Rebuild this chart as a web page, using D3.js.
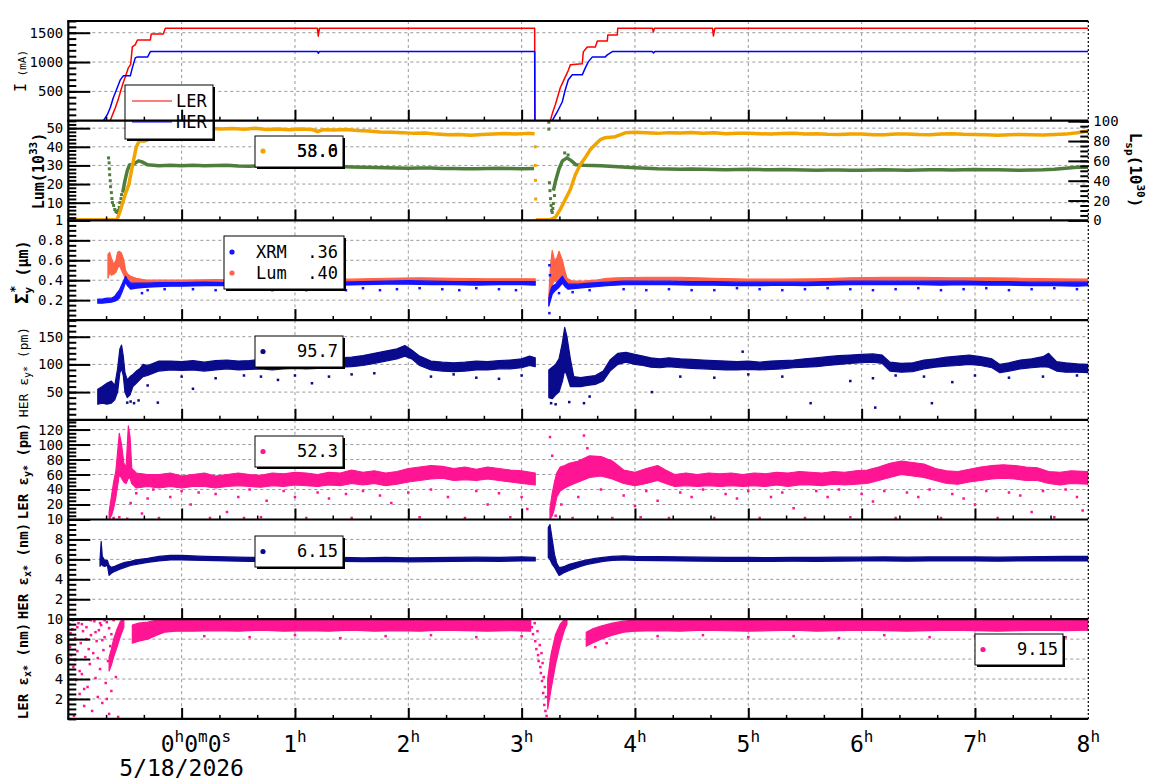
<!DOCTYPE html>
<html>
<head>
<meta charset="utf-8">
<script src="https://cdn.jsdelivr.net/npm/d3@7"></script>
<style>
  body { margin: 0; background: #fff; }
  svg text { font-family: "DejaVu Sans Mono", monospace; }
</style>
</head>
<body>
<div id="chart"></div>
<script>
// ----------------------------
// Data (time in hours from 0h, values per panel)
// ----------------------------

// Panel 1: beam currents (mA)
const lerCurrent = [[-1, 0], [-0.63, 0], [-0.61, 100], [-0.585, 221], [-0.56, 360], [-0.54, 493], [-0.52, 620], [-0.497, 748],
  [-0.47, 901], [-0.45, 960], [-0.435, 1258], [-0.41, 1292], [-0.39, 1377], [-0.276, 1377], [-0.268, 1479], [-0.162, 1479],
  [-0.144, 1575], [1.198, 1575], [1.206, 1440], [1.216, 1575], [3.115, 1575], [3.117, 0], [3.253, 0], [3.275, 150],
  [3.297, 272], [3.32, 420], [3.341, 561], [3.362, 650], [3.385, 748], [3.41, 850], [3.43, 952], [3.535, 969], [3.544, 1173],
  [3.579, 1258], [3.65, 1258], [3.668, 1360], [3.756, 1360], [3.76, 1462], [3.844, 1462], [3.848, 1575], [4.155, 1575],
  [4.162, 1513], [4.172, 1575], [4.685, 1575], [4.692, 1445], [4.705, 1575], [8, 1575]];
const herCurrent = [[-1, 0], [-0.69, 0], [-0.656, 102], [-0.63, 221], [-0.603, 391], [-0.568, 561], [-0.541, 697], [-0.515, 765],
  [-0.453, 765], [-0.435, 901], [-0.409, 1071], [-0.39, 1088], [-0.3, 1088], [-0.276, 1178], [1.2, 1178], [1.206, 1150],
  [1.215, 1178], [3.115, 1178], [3.117, 0], [3.27, 0], [3.315, 153], [3.359, 323], [3.385, 527], [3.412, 697], [3.447, 782],
  [3.535, 782], [3.562, 900], [3.588, 1003], [3.624, 1088], [3.738, 1088], [3.756, 1122], [3.8, 1178], [4.155, 1178],
  [4.163, 1155], [4.175, 1178], [8, 1178]];

// Panel 2: luminosity (left axis, 10^33) and specific luminosity (right axis, 10^30)
const lumLine = [[-1, 0.9], [-0.57, 0.9], [-0.545, 5], [-0.5, 14], [-0.465, 20], [-0.44, 28], [-0.42, 34], [-0.4, 40],
  [-0.37, 43.5], [-0.33, 43], [-0.29, 44], [-0.265, 46.5], [-0.22, 48.5], [-0.15, 49.6], [-0.05, 49.8], [0.05, 50.2],
  [0.15, 49.6], [0.25, 50], [0.35, 49.5], [0.45, 49.8], [0.55, 49.4], [0.65, 49.9], [0.75, 49.3], [0.85, 49.6], [0.95, 49.2],
  [1.05, 49.6], [1.15, 49.3], [1.2, 48.2], [1.25, 49.2], [1.35, 49], [1.45, 49.3], [1.55, 48.7], [1.65, 48.5], [1.75, 48],
  [1.85, 47.8], [1.95, 47.6], [2.05, 47.2], [2.15, 47.4], [2.25, 46.8], [2.35, 46.4], [2.45, 46.6], [2.55, 46.2], [2.65, 46.6],
  [2.75, 46.9], [2.85, 47.1], [2.95, 46.8], [3.05, 47.2], [3.115, 47], null,
  [3.125, 0.9], [3.253, 0.9], [3.297, 2.1], [3.341, 6.4], [3.385, 11.7], [3.43, 17.1], [3.474, 25], [3.518, 30.5],
  [3.562, 34.2], [3.606, 38.5], [3.65, 41.2], [3.694, 43.8], [3.738, 44.9], [3.826, 45.4], [3.915, 47.5], [4.0, 47.8],
  [4.1, 47.5], [4.2, 47.2], [4.3, 47.6], [4.4, 47.4], [4.5, 47.7], [4.6, 47.3], [4.7, 47.5], [4.8, 47], [4.9, 47.3], [5.0, 47.3],
  [5.1, 47], [5.2, 46.8], [5.3, 47.1], [5.4, 47.2], [5.5, 46.9], [5.6, 47], [5.7, 46.7], [5.8, 46.6], [5.9, 46.9], [6.0, 46.8],
  [6.1, 46.5], [6.2, 46.4], [6.3, 46.8], [6.4, 46.9], [6.5, 46.6], [6.6, 46.5], [6.7, 46.8], [6.8, 47], [6.9, 46.7], [7.0, 46.6],
  [7.1, 46.4], [7.2, 46.2], [7.3, 46.5], [7.4, 46.6], [7.5, 46.4], [7.6, 46.3], [7.7, 46.6], [7.8, 46.8], [7.9, 47.5], [8.0, 48.5]];
const lumStray = [[3.12, 40], [3.12, 30], [3.122, 22], [3.124, 12]];
const lspLine = [[-0.52, 28], [-0.5, 40], [-0.48, 50], [-0.46, 56], [-0.42, 57], [-0.38, 60], [-0.35, 59], [-0.3, 56],
  [-0.2, 55], [-0.1, 55.5], [0, 55.2], [0.1, 55.6], [0.2, 55], [0.3, 55.4], [0.4, 55.6], [0.5, 54.8], [0.6, 54.5], [0.7, 55],
  [0.8, 54.8], [0.9, 54.4], [1.0, 54.2], [1.1, 54.6], [1.2, 54], [1.3, 54.3], [1.4, 54.3], [1.5, 53.8], [1.6, 53.5], [1.7, 53.2],
  [1.8, 53], [1.9, 52.7], [2.0, 52.5], [2.1, 52.8], [2.2, 52.8], [2.3, 52.4], [2.4, 52.2], [2.5, 52], [2.6, 52], [2.7, 52.3],
  [2.8, 52.5], [2.9, 52.2], [3.0, 52], [3.11, 52.3], null,
  [3.28, 30], [3.3, 40], [3.33, 52], [3.36, 60], [3.4, 63], [3.44, 60], [3.48, 56], [3.55, 55.5], [3.7, 55], [3.85, 54],
  [4.0, 53], [4.1, 52.5], [4.2, 52], [4.3, 51.8], [4.4, 51.5], [4.5, 51.7], [4.6, 51.5], [4.7, 51.2], [4.8, 51], [4.9, 51.3],
  [5.0, 51.5], [5.1, 51.2], [5.2, 51], [5.3, 51.2], [5.4, 51], [5.5, 50.7], [5.6, 50.5], [5.7, 50.8], [5.8, 50.8], [5.9, 50.6],
  [6.0, 50.5], [6.1, 50.8], [6.2, 51], [6.3, 50.7], [6.4, 50.5], [6.5, 50.8], [6.6, 51], [6.7, 51], [6.8, 50.8], [6.9, 51],
  [7.0, 51.2], [7.1, 51.1], [7.2, 51], [7.3, 50.8], [7.4, 50.6], [7.5, 50.8], [7.6, 51], [7.7, 51.6], [7.8, 52.5], [7.9, 53.5],
  [8.0, 53.5]];
const lspStray = [[-0.645, 63], [-0.64, 58], [-0.638, 52], [-0.635, 46], [-0.63, 40], [-0.627, 34], [-0.62, 28], [-0.615, 22],
  [-0.61, 18], [-0.6, 15], [-0.59, 11], [-0.58, 9], [-0.57, 8], [-0.56, 10], [-0.55, 13], [-0.545, 18], [-0.535, 22], [-0.53, 26],
  [3.24, 99], [3.24, 92], [3.245, 38], [3.25, 30], [3.255, 22], [3.26, 15], [3.265, 10], [3.27, 8], [3.275, 12], [3.28, 17],
  [3.29, 25], [3.38, 68], [3.41, 66]];

// Panel 3: vertical beam size (um), [t, low, high] bands
const xrmBand = [[-0.74, 0.17, 0.21], [-0.7, 0.17, 0.21], [-0.66, 0.175, 0.22], [-0.62, 0.18, 0.22], [-0.59, 0.19, 0.24],
  [-0.57, 0.2, 0.27], [-0.55, 0.22, 0.3], [-0.53, 0.27, 0.35], [-0.51, 0.33, 0.4], [-0.495, 0.38, 0.44], [-0.475, 0.34, 0.4],
  [-0.45, 0.31, 0.37], [-0.4, 0.32, 0.37], [-0.3, 0.33, 0.37], [-0.2, 0.335, 0.375], [-0.1, 0.34, 0.375], [0, 0.34, 0.375],
  [0.2, 0.345, 0.38], [0.4, 0.345, 0.375], [0.6, 0.35, 0.38], [0.8, 0.345, 0.38], [1.0, 0.35, 0.38], [1.2, 0.345, 0.378],
  [1.4, 0.35, 0.38], [1.6, 0.355, 0.385], [1.8, 0.36, 0.39], [2.0, 0.36, 0.395], [2.2, 0.355, 0.39], [2.4, 0.355, 0.385],
  [2.6, 0.35, 0.385], [2.8, 0.355, 0.385], [3.0, 0.355, 0.385], [3.12, 0.35, 0.385], null,
  [3.24, 0.14, 0.22], [3.255, 0.2, 0.3], [3.27, 0.26, 0.34], [3.3, 0.3, 0.36], [3.33, 0.33, 0.4], [3.36, 0.37, 0.44],
  [3.38, 0.34, 0.4], [3.41, 0.31, 0.36], [3.5, 0.32, 0.36], [3.6, 0.33, 0.37], [3.75, 0.345, 0.38], [3.9, 0.355, 0.39],
  [4.1, 0.355, 0.39], [4.3, 0.355, 0.39], [4.5, 0.35, 0.385], [4.7, 0.35, 0.385], [4.9, 0.345, 0.38], [5.1, 0.345, 0.38],
  [5.3, 0.35, 0.38], [5.5, 0.345, 0.38], [5.7, 0.35, 0.385], [5.9, 0.355, 0.39], [6.1, 0.355, 0.39], [6.3, 0.355, 0.39],
  [6.5, 0.355, 0.39], [6.7, 0.35, 0.39], [6.9, 0.355, 0.39], [7.1, 0.35, 0.385], [7.3, 0.35, 0.385], [7.5, 0.345, 0.38],
  [7.7, 0.345, 0.38], [7.9, 0.34, 0.38], [8.0, 0.345, 0.38]];
const xrmStray = [[-0.35, 0.27], [-0.3, 0.3], [-0.15, 0.31], [0.1, 0.31], [0.3, 0.3], [0.45, 0.32], [0.62, 0.31], [0.8, 0.3],
  [0.95, 0.31], [1.1, 0.3], [1.3, 0.31], [1.45, 0.3], [1.6, 0.32], [1.75, 0.3], [1.9, 0.31], [2.1, 0.32], [2.3, 0.31],
  [2.45, 0.3], [2.6, 0.32], [2.8, 0.31], [2.95, 0.3], [3.245, 0.07], [3.245, 0.55], [3.25, 0.45], [3.33, 0.27], [3.45, 0.28],
  [3.6, 0.3], [3.9, 0.31], [4.1, 0.3], [4.3, 0.31], [4.5, 0.3], [4.7, 0.3], [4.9, 0.32], [5.1, 0.31], [5.3, 0.3], [5.5, 0.31],
  [5.7, 0.32], [5.9, 0.31], [6.1, 0.3], [6.3, 0.31], [6.5, 0.32], [6.7, 0.3], [6.9, 0.31], [7.1, 0.32], [7.3, 0.3], [7.5, 0.31],
  [7.7, 0.32], [7.9, 0.31]];
const sigLumBand = [[-0.65, 0.42, 0.66], [-0.635, 0.48, 0.68], [-0.62, 0.45, 0.62], [-0.6, 0.46, 0.56], [-0.58, 0.48, 0.6],
  [-0.565, 0.52, 0.68], [-0.55, 0.55, 0.69], [-0.53, 0.5, 0.67], [-0.51, 0.45, 0.6], [-0.495, 0.42, 0.5], [-0.475, 0.4, 0.46],
  [-0.45, 0.38, 0.44], [-0.4, 0.37, 0.42], [-0.3, 0.37, 0.4], [-0.2, 0.375, 0.4], [0, 0.38, 0.4], [0.3, 0.38, 0.405],
  [0.6, 0.38, 0.4], [0.9, 0.38, 0.405], [1.2, 0.385, 0.41], [1.5, 0.385, 0.41], [1.8, 0.39, 0.42], [2.1, 0.395, 0.425],
  [2.4, 0.39, 0.42], [2.7, 0.39, 0.415], [3.0, 0.39, 0.415], [3.12, 0.39, 0.415], null,
  [3.24, 0.15, 0.25], [3.255, 0.25, 0.55], [3.27, 0.35, 0.7], [3.29, 0.4, 0.6], [3.31, 0.38, 0.62], [3.33, 0.42, 0.69],
  [3.36, 0.42, 0.6], [3.38, 0.38, 0.5], [3.4, 0.36, 0.42], [3.45, 0.35, 0.39], [3.55, 0.36, 0.39], [3.65, 0.37, 0.4],
  [3.75, 0.39, 0.42], [3.85, 0.395, 0.425], [4.1, 0.4, 0.43], [4.4, 0.4, 0.43], [4.7, 0.39, 0.42], [5.0, 0.385, 0.41],
  [5.3, 0.385, 0.41], [5.6, 0.39, 0.415], [5.9, 0.395, 0.425], [6.2, 0.4, 0.43], [6.5, 0.4, 0.43], [6.8, 0.395, 0.425],
  [7.1, 0.395, 0.425], [7.4, 0.39, 0.42], [7.7, 0.385, 0.415], [8.0, 0.385, 0.41]];

// Panel 4: HER vertical emittance (pm)
const herEyBand = [[-0.74, 28, 55], [-0.7, 30, 60], [-0.66, 28, 66], [-0.62, 30, 70], [-0.59, 36, 62], [-0.565, 50, 92],
  [-0.545, 85, 128], [-0.53, 92, 135], [-0.515, 80, 115], [-0.5, 50, 85], [-0.48, 40, 72], [-0.455, 45, 78], [-0.43, 60, 82],
  [-0.4, 66, 88], [-0.37, 72, 92], [-0.34, 78, 100], [-0.3, 80, 98], [-0.25, 84, 102], [-0.2, 88, 106], [-0.1, 90, 106],
  [0, 89, 105], [0.1, 90, 107], [0.2, 88, 104], [0.3, 90, 107], [0.4, 92, 108], [0.5, 90, 106], [0.6, 91, 107], [0.7, 92, 109],
  [0.8, 90, 106], [0.9, 92, 108], [1.0, 93, 108], [1.1, 92, 109], [1.2, 93, 108], [1.3, 94, 110], [1.4, 95, 112],
  [1.5, 96, 113], [1.6, 98, 116], [1.7, 102, 120], [1.8, 106, 124], [1.9, 110, 128], [1.97, 115, 134], [2.03, 110, 126],
  [2.1, 98, 115], [2.2, 90, 106], [2.3, 88, 104], [2.4, 87, 103], [2.5, 88, 104], [2.6, 90, 106], [2.7, 90, 105],
  [2.8, 92, 107], [2.9, 92, 108], [3.0, 94, 110], [3.07, 98, 115], [3.12, 96, 112], null,
  [3.24, 40, 90], [3.27, 38, 95], [3.3, 45, 100], [3.33, 50, 110], [3.36, 70, 140], [3.38, 90, 167], [3.4, 80, 150],
  [3.43, 60, 110], [3.46, 60, 78], [3.52, 60, 76], [3.58, 62, 78], [3.65, 64, 80], [3.72, 70, 88], [3.78, 88, 108],
  [3.85, 100, 120], [3.92, 104, 122], [4.0, 100, 118], [4.07, 98, 115], [4.14, 95, 112], [4.22, 94, 110], [4.3, 96, 112],
  [4.4, 94, 110], [4.5, 93, 109], [4.6, 92, 108], [4.7, 91, 107], [4.8, 90, 106], [4.9, 90, 105], [5.0, 91, 106],
  [5.1, 90, 104], [5.2, 91, 106], [5.3, 92, 107], [5.4, 94, 108], [5.5, 95, 110], [5.6, 96, 112], [5.7, 98, 114],
  [5.8, 100, 116], [5.9, 102, 117], [6.0, 103, 118], [6.1, 104, 119], [6.18, 102, 117], [6.25, 88, 104], [6.35, 86, 102],
  [6.45, 87, 103], [6.55, 92, 108], [6.65, 95, 110], [6.75, 97, 113], [6.85, 98, 115], [6.95, 100, 117], [7.05, 98, 114],
  [7.15, 94, 110], [7.22, 85, 100], [7.3, 88, 103], [7.4, 92, 108], [7.5, 94, 110], [7.6, 96, 114], [7.65, 95, 120],
  [7.72, 88, 105], [7.8, 86, 103], [7.9, 86, 101], [8.0, 85, 100]];
const herEyStray = [[-0.48, 31], [-0.45, 33], [-0.42, 30], [-0.38, 35], [-0.21, 31], [-0.3, 62], [0.1, 56], [0.0, 78],
  [0.3, 75], [0.55, 80], [0.7, 78], [0.85, 72], [1.0, 80], [1.15, 66], [1.3, 78], [1.5, 82], [1.7, 84], [2.2, 78], [2.4, 82],
  [2.6, 76], [2.8, 74], [3.0, 80], [3.26, 30], [3.3, 28], [3.42, 32], [3.55, 30], [3.6, 42], [4.15, 50], [4.4, 78], [4.7, 76],
  [4.95, 123], [5.0, 82], [5.3, 78], [5.55, 30], [5.9, 70], [6.1, 75], [6.12, 22], [6.3, 80], [6.55, 78], [6.62, 30],
  [6.8, 68], [7.0, 80], [7.3, 76], [7.6, 78], [7.9, 80]];

// Panel 5: LER vertical emittance (pm)
const lerEyBand = [[-0.64, 0, 10], [-0.62, 5, 30], [-0.6, 15, 50], [-0.58, 30, 65], [-0.565, 45, 90], [-0.55, 60, 115],
  [-0.53, 55, 100], [-0.51, 50, 75], [-0.49, 48, 70], [-0.47, 55, 125], [-0.455, 55, 110], [-0.44, 48, 68], [-0.4, 42, 62],
  [-0.3, 44, 60], [-0.2, 42, 60], [-0.1, 44, 62], [0, 42, 58], [0.1, 44, 60], [0.2, 44, 62], [0.3, 42, 58], [0.4, 44, 60],
  [0.5, 45, 62], [0.6, 44, 60], [0.7, 43, 59], [0.8, 45, 62], [0.9, 44, 61], [1.0, 46, 63], [1.1, 45, 62], [1.2, 44, 60],
  [1.3, 46, 63], [1.4, 45, 62], [1.5, 48, 66], [1.6, 46, 63], [1.7, 48, 65], [1.8, 45, 62], [1.9, 47, 64], [2.0, 50, 68],
  [2.1, 52, 70], [2.2, 54, 72], [2.3, 55, 71], [2.4, 52, 68], [2.5, 53, 70], [2.6, 52, 67], [2.7, 54, 70], [2.8, 52, 68],
  [2.9, 50, 66], [3.0, 48, 65], [3.12, 46, 62], null,
  [3.25, 0, 15], [3.27, 5, 35], [3.29, 15, 50], [3.31, 30, 62], [3.34, 38, 70], [3.38, 42, 72], [3.42, 45, 75], [3.5, 50, 78],
  [3.6, 56, 85], [3.7, 58, 84], [3.8, 54, 78], [3.9, 48, 66], [4.0, 45, 63], [4.1, 48, 68], [4.2, 52, 72], [4.27, 48, 66],
  [4.35, 44, 60], [4.45, 45, 62], [4.55, 44, 60], [4.65, 45, 62], [4.75, 44, 61], [4.85, 45, 62], [4.95, 44, 60],
  [5.05, 45, 62], [5.15, 44, 61], [5.25, 46, 63], [5.35, 44, 62], [5.45, 46, 64], [5.55, 46, 63], [5.65, 45, 62],
  [5.75, 47, 64], [5.85, 46, 63], [5.95, 47, 65], [6.05, 48, 66], [6.15, 52, 70], [6.25, 56, 75], [6.35, 60, 78],
  [6.45, 58, 76], [6.55, 56, 74], [6.65, 52, 68], [6.75, 48, 65], [6.85, 47, 64], [6.95, 50, 67], [7.05, 52, 70],
  [7.15, 54, 72], [7.25, 55, 73], [7.35, 54, 72], [7.45, 52, 70], [7.55, 52, 69], [7.65, 48, 64], [7.75, 46, 63],
  [7.85, 48, 65], [8.0, 47, 64]];
const lerEyStray = [[-0.6, 2], [-0.55, 3], [-0.48, 1], [-0.45, 22], [-0.4, 35], [-0.35, 8], [-0.3, 28], [-0.25, 40], [-0.2, 2],
  [-0.1, 30], [0, 38], [0.08, 20], [0.15, 36], [0.25, 2], [0.3, 34], [0.4, 10], [0.5, 30], [0.55, 2], [0.6, 40], [0.7, 3],
  [0.75, 25], [0.9, 38], [1.0, 30], [1.1, 2], [1.2, 36], [1.3, 28], [1.35, 75], [1.45, 34], [1.5, 2], [1.6, 38], [1.75, 32],
  [1.85, 22], [2.0, 36], [2.1, 3], [2.2, 40], [2.35, 30], [2.5, 2], [2.6, 38], [2.7, 20], [2.8, 35], [2.9, 3], [3.0, 30],
  [3.05, 14], [3.25, 110], [3.27, 85], [3.3, 5], [3.35, 20], [3.45, 2], [3.5, 30], [3.55, 112], [3.58, 95], [3.7, 40],
  [3.8, 2], [3.9, 32], [4.0, 18], [4.05, 3], [4.1, 38], [4.2, 25], [4.3, 2], [4.4, 36], [4.5, 30], [4.6, 40], [4.7, 2],
  [4.8, 34], [4.9, 28], [5.0, 38], [5.1, 2], [5.2, 30], [5.3, 36], [5.4, 15], [5.5, 2], [5.6, 38], [5.7, 30], [5.8, 40],
  [5.9, 3], [6.0, 34], [6.1, 24], [6.2, 38], [6.3, 2], [6.4, 36], [6.5, 30], [6.6, 40], [6.7, 2], [6.8, 34], [6.9, 28],
  [7.0, 20], [7.1, 38], [7.2, 2], [7.3, 36], [7.4, 32], [7.5, 10], [7.6, 38], [7.7, 3], [7.8, 40], [7.9, 30], [7.95, 12]];

// Panel 6: HER horizontal emittance (nm)
const herExBand = [[-0.72, 5.3, 6.0], [-0.71, 5.6, 7.8], [-0.7, 5.4, 6.3], [-0.68, 5.3, 5.9], [-0.655, 5.4, 5.9],
  [-0.64, 4.4, 5.4], [-0.62, 4.6, 5.2], [-0.59, 4.8, 5.3], [-0.55, 5.0, 5.5], [-0.5, 5.2, 5.7], [-0.45, 5.4, 5.8],
  [-0.4, 5.5, 5.95], [-0.3, 5.7, 6.1], [-0.2, 5.85, 6.3], [-0.1, 5.95, 6.4], [0, 5.95, 6.4], [0.2, 5.9, 6.3],
  [0.4, 5.85, 6.25], [0.6, 5.8, 6.2], [0.8, 5.82, 6.22], [1.0, 5.8, 6.2], [1.2, 5.78, 6.18], [1.4, 5.8, 6.2],
  [1.6, 5.78, 6.15], [1.8, 5.8, 6.2], [2.0, 5.75, 6.15], [2.2, 5.78, 6.18], [2.4, 5.8, 6.2], [2.6, 5.82, 6.22],
  [2.8, 5.8, 6.2], [3.0, 5.85, 6.25], [3.12, 5.85, 6.2], null,
  [3.235, 6.2, 9.2], [3.25, 6.0, 9.5], [3.27, 5.5, 8.0], [3.29, 5.2, 6.5], [3.31, 4.8, 5.6], [3.33, 4.4, 5.2],
  [3.35, 4.5, 5.2], [3.38, 4.7, 5.3], [3.42, 4.9, 5.5], [3.47, 5.1, 5.65], [3.52, 5.3, 5.8], [3.58, 5.5, 5.95],
  [3.65, 5.65, 6.1], [3.72, 5.8, 6.2], [3.8, 5.9, 6.3], [3.9, 5.95, 6.35], [4.0, 5.9, 6.3], [4.2, 5.88, 6.28],
  [4.4, 5.85, 6.25], [4.6, 5.82, 6.22], [4.8, 5.8, 6.2], [5.0, 5.8, 6.2], [5.2, 5.8, 6.18], [5.4, 5.82, 6.2],
  [5.6, 5.8, 6.2], [5.8, 5.82, 6.22], [6.0, 5.85, 6.22], [6.2, 5.85, 6.25], [6.4, 5.82, 6.22], [6.6, 5.85, 6.25],
  [6.8, 5.85, 6.25], [7.0, 5.85, 6.25], [7.2, 5.82, 6.22], [7.4, 5.85, 6.25], [7.6, 5.85, 6.28], [7.8, 5.88, 6.3],
  [8.0, 5.85, 6.3]];

// Panel 7: LER horizontal emittance (nm)
const lerExBand = [[-0.64, 4.8, 6.2], [-0.62, 5.4, 7.0], [-0.6, 6.2, 8.0], [-0.57, 7.2, 9.0], [-0.54, 8.3, 9.8],
  [-0.51, 9.2, 10], null,
  [-0.435, 7.6, 9.4], [-0.38, 7.8, 9.6], [-0.3, 8.0, 9.7], [-0.22, 8.4, 9.9], [-0.15, 8.7, 9.95], [-0.05, 8.8, 9.95],
  [0.1, 8.8, 9.9], [0.3, 8.85, 9.95], [0.5, 8.8, 9.9], [0.7, 8.9, 9.95], [0.9, 8.8, 9.9], [1.1, 8.85, 9.95], [1.3, 8.8, 9.9],
  [1.5, 8.9, 9.95], [1.7, 8.8, 9.9], [1.9, 8.85, 9.95], [2.1, 8.8, 9.9], [2.3, 8.9, 9.95], [2.5, 8.85, 9.9], [2.7, 8.8, 9.95],
  [2.9, 8.85, 9.9], [3.08, 8.8, 9.95], null,
  [3.23, 1.0, 4.0], [3.26, 3.0, 6.5], [3.3, 5.5, 8.5], [3.34, 7.5, 9.5], [3.38, 9.0, 10], [3.4, 9.5, 10], null,
  [3.57, 7.3, 8.7], [3.62, 7.6, 9.0], [3.7, 8.0, 9.3], [3.8, 8.4, 9.6], [3.9, 8.7, 9.8], [4.0, 8.8, 9.9], [4.2, 8.85, 9.95],
  [4.4, 8.8, 9.9], [4.6, 8.9, 9.95], [4.8, 8.85, 9.9], [5.0, 8.8, 9.95], [5.2, 8.85, 9.9], [5.4, 8.9, 9.95], [5.6, 8.8, 9.9],
  [5.8, 8.85, 9.95], [6.0, 8.9, 9.95], [6.2, 8.85, 9.9], [6.4, 8.8, 9.95], [6.6, 8.85, 9.9], [6.8, 8.9, 9.95], [7.0, 8.85, 9.9],
  [7.2, 8.8, 9.95], [7.4, 8.85, 9.9], [7.6, 8.9, 9.95], [7.8, 8.85, 9.9], [8.0, 8.9, 9.95]];
const lerExStray = [[-0.99, 9.5], [-0.985, 7.2], [-0.975, 6.4], [-0.965, 9.0], [-0.955, 5.2], [-0.95, 0.3], [-0.94, 8.1],
  [-0.93, 3.9], [-0.92, 6.8], [-0.91, 9.6], [-0.9, 2.5], [-0.89, 7.6], [-0.88, 4.5], [-0.87, 8.8], [-0.86, 1.3], [-0.85, 6.2],
  [-0.84, 9.2], [-0.83, 3.2], [-0.82, 7.0], [-0.81, 5.5], [-0.8, 8.4], [-0.79, 0.8], [-0.78, 6.6], [-0.77, 9.8], [-0.76, 4.1],
  [-0.75, 7.8], [-0.74, 2.2], [-0.73, 8.9], [-0.72, 5.0], [-0.71, 9.4], [-0.7, 1.6], [-0.69, 6.9], [-0.68, 8.2], [-0.67, 3.6],
  [-0.66, 9.7], [-0.65, 5.8], [-0.64, 0.5], [-0.63, 7.3], [-0.62, 2.8], [-0.6, 9.9], [-0.58, 4.2], [-0.56, 0.2], [-0.98, 8.6],
  [-0.96, 9.9], [-0.92, 9.2], [-0.88, 9.5], [-0.84, 8.0], [-0.8, 9.9], [-0.76, 8.7], [-0.72, 9.6], [-0.68, 9.9], [-0.64, 9.1],
  [-0.62, 8.5], [-0.7, 7.9], [-0.74, 6.1], [-0.66, 2.0], [-0.86, 3.0], [-0.9, 4.8], [-0.94, 5.9],
  [3.09, 9.2], [3.1, 8.5], [3.115, 9.6], [3.12, 7.8], [3.13, 7.0], [3.14, 8.8], [3.145, 6.4], [3.15, 5.8], [3.16, 7.4],
  [3.165, 5.2], [3.17, 4.6], [3.175, 6.6], [3.18, 3.8], [3.185, 5.6], [3.19, 2.6], [3.195, 4.2], [3.2, 1.4], [3.205, 3.2],
  [3.21, 0.8], [3.215, 2.2], [3.22, 0.3],
  [0.2, 8.3], [0.6, 8.2], [1.0, 8.4], [1.4, 8.1], [1.8, 8.3], [2.2, 8.4], [2.6, 8.2], [3.0, 8.3], [3.65, 7.2], [3.75, 7.6],
  [4.2, 8.3], [4.6, 8.4], [5.0, 8.2], [5.4, 8.3], [5.8, 8.1], [6.2, 8.4], [6.6, 8.2], [7.0, 8.3], [7.4, 8.4], [7.8, 8.2]];

// Tick values and labels
const hourTicks = [0, 1, 2, 3, 4, 5, 6, 7, 8];
const hourLabels = ["1", "2", "3", "4", "5", "6", "7", "8"];
const dateLabel = "5/18/2026";
const currentTicks = [500, 1000, 1500];
const lumTicks = [10, 20, 30, 40, 50];
const lspTicks = [0, 20, 40, 60, 80, 100];
const sigmaTicks = [0.2, 0.4, 0.6, 0.8, 1];
const herEyTicks = [50, 100, 150];
const lerEyTicks = [20, 40, 60, 80, 100, 120];
const emitXTicks = [2, 4, 6, 8, 10];

// Legend readouts
const lumReadouts = ["58.6", "53.0"];
const sigmaNames = ["XRM", "Lum"];
const sigmaReadouts = [".36", ".40"];
const herEyReadout = "95.7";
const lerEyReadout = "52.3";
const herExReadout = "6.15";
const lerExReadout = "9.15";

// ----------------------------
// Layout
// ----------------------------
const width = 1160;
const height = 782;
const plotLeft = 68.3;
const plotRight = 1088.3;
const plotTop = 21;
const panelH = 99.7;

const colors = {
  ler: "#ff0000", her: "#0000ff", lum: "#f2a400", lsp: "#4e7d3c",
  xrm: "#1414ff", sigLum: "#ff6347", navy: "#0a0a8c", pink: "#ff1493"
};

const x = d3.scaleLinear().domain([-1, 8]).range([plotLeft, plotRight]);

const panels = [
  { domain: [0, 1700], major: currentTicks, minorStep: 100, fmt: d => d },
  { domain: [0.5, 54], major: lumTicks, minorStep: 2, fmt: d => d },
  { domain: [0, 1], major: sigmaTicks, minorStep: 0.05, fmt: d => d === 1 ? "1" : d.toFixed(1) },
  { domain: [0, 180], major: herEyTicks, minorStep: 10, fmt: d => d },
  { domain: [0, 133], major: lerEyTicks, minorStep: 5, fmt: d => d },
  { domain: [0, 10], major: emitXTicks, minorStep: 0.5, fmt: d => d },
  { domain: [0, 10], major: emitXTicks, minorStep: 0.5, fmt: d => d }
];
panels.forEach((p, i) => {
  p.top = plotTop + i * panelH;
  p.bottom = p.top + panelH;
  p.y = d3.scaleLinear().domain(p.domain).range([p.bottom, p.top]);
});
const ySp = d3.scaleLinear().domain([0, 100.5]).range([panels[1].bottom, panels[1].top]);

const svg = d3.create("svg")
  .attr("width", width)
  .attr("height", height)
  .attr("viewBox", [0, 0, width, height]);

svg.append("rect").attr("width", width).attr("height", height).attr("fill", "#fff");

const defs = svg.append("defs");
panels.forEach((p, i) => {
  defs.append("clipPath").attr("id", "clip" + i)
    .append("rect")
    .attr("x", plotLeft).attr("y", p.top)
    .attr("width", plotRight - plotLeft).attr("height", panelH);
});

function minorValues(p) {
  const out = [];
  const n = Math.floor((p.domain[1] + 1e-9) / p.minorStep);
  for (let i = 0; i <= n; i++) {
    const v = +(i * p.minorStep).toFixed(4);
    if (v >= p.domain[0]) out.push(v);
  }
  return out;
}

// ----------------------------
// Grid lines
// ----------------------------
const grid = svg.append("g")
  .attr("stroke", "#999")
  .attr("stroke-width", 1)
  .attr("stroke-dasharray", "3,3");

panels.forEach(p => {
  hourTicks.filter(h => h < 8).forEach(h => {
    grid.append("line")
      .attr("x1", x(h)).attr("x2", x(h))
      .attr("y1", p.top).attr("y2", p.bottom);
  });
  p.major.forEach(v => {
    const yy = p.y(v);
    if (yy > p.top + 1 && yy < p.bottom - 1) {
      grid.append("line")
        .attr("x1", plotLeft).attr("x2", plotRight)
        .attr("y1", yy).attr("y2", yy);
    }
  });
});

// ----------------------------
// Data marks
// ----------------------------
function drawBand(i, rows, color) {
  const y = panels[i].y;
  const area = d3.area()
    .defined(d => d !== null)
    .x(d => x(d[0]))
    .y0(d => y(d[1]))
    .y1(d => y(d[2]));
  svg.append("path")
    .attr("clip-path", `url(#clip${i})`)
    .attr("d", area(rows))
    .attr("fill", color)
    .attr("stroke", color)
    .attr("stroke-width", 1.2)
    .attr("stroke-linejoin", "round");
}

function drawLine(i, rows, color, w, yScale) {
  const y = yScale || panels[i].y;
  const line = d3.line()
    .defined(d => d !== null)
    .x(d => x(d[0]))
    .y(d => y(d[1]));
  svg.append("path")
    .attr("clip-path", `url(#clip${i})`)
    .attr("d", line(rows))
    .attr("fill", "none")
    .attr("stroke", color)
    .attr("stroke-width", w)
    .attr("stroke-linejoin", "round");
}

function drawDots(i, rows, color, size, yScale) {
  const y = yScale || panels[i].y;
  svg.append("g")
    .attr("clip-path", `url(#clip${i})`)
    .selectAll("rect")
    .data(rows)
    .join("rect")
      .attr("x", d => x(d[0]) - size / 2)
      .attr("y", d => y(d[1]) - size / 2)
      .attr("width", size)
      .attr("height", size)
      .attr("fill", color);
}

// Panel 1
drawLine(0, lerCurrent, colors.ler, 1.5);
drawLine(0, herCurrent, colors.her, 1.5);

// Panel 2
drawLine(1, lspLine, colors.lsp, 3.5, ySp);
drawDots(1, lspStray, colors.lsp, 3, ySp);
drawLine(1, lumLine, colors.lum, 3.5);
drawDots(1, lumStray, colors.lum, 3);

// Panel 3
drawBand(2, sigLumBand, colors.sigLum);
drawBand(2, xrmBand, colors.xrm);
drawDots(2, xrmStray, colors.xrm, 2.5);

// Panel 4
drawBand(3, herEyBand, colors.navy);
drawDots(3, herEyStray, colors.navy, 2.5);

// Panel 5
drawBand(4, lerEyBand, colors.pink);
drawDots(4, lerEyStray, colors.pink, 2.5);

// Panel 6
drawBand(5, herExBand, colors.navy);

// Panel 7
drawBand(6, lerExBand, colors.pink);
drawDots(6, lerExStray, colors.pink, 2.5);

// ----------------------------
// Legends
// ----------------------------
function legendBox(x0, y0, w, h) {
  const g = svg.append("g");
  g.append("rect").attr("x", x0 + 2).attr("y", y0 + 2).attr("width", w).attr("height", h).attr("fill", "#000");
  g.append("rect").attr("x", x0).attr("y", y0).attr("width", w).attr("height", h)
    .attr("fill", "#fff").attr("stroke", "#000").attr("stroke-width", 1);
  return g;
}

function legendText(g, xx, yy, txt, anchor) {
  g.append("text")
    .attr("x", xx).attr("y", yy)
    .attr("dy", "0.35em")
    .attr("text-anchor", anchor || "end")
    .attr("font-size", 17)
    .attr("fill", "#000")
    .text(txt);
}

function legendDot(g, xx, yy, color) {
  g.append("circle").attr("cx", xx).attr("cy", yy).attr("r", 2.6).attr("fill", color);
}

// current legend
{
  const g = legendBox(125, 85, 88, 54);
  [["LER", colors.ler, 101], ["HER", colors.her, 122]].forEach(([name, c, yy]) => {
    g.append("line").attr("x1", 132).attr("x2", 172).attr("y1", yy).attr("y2", yy)
      .attr("stroke", c).attr("stroke-width", 1.2);
    legendText(g, 176, yy, name, "start");
  });
}
// luminosity legend (two readouts written on top of each other)
{
  const g = legendBox(255, 136, 88, 31);
  legendDot(g, 263, 151, colors.lum);
  lumReadouts.forEach(v => legendText(g, 338, 151, v));
}
// beam size legend
{
  const g = legendBox(224, 236, 120, 53);
  [[colors.xrm, 252], [colors.sigLum, 273]].forEach(([c, yy], k) => {
    legendDot(g, 232, yy, c);
    legendText(g, 256, yy, sigmaNames[k], "start");
    legendText(g, 338, yy, sigmaReadouts[k]);
  });
}
[[336, colors.navy, herEyReadout, 255], [436, colors.pink, lerEyReadout, 255],
 [536, colors.navy, herExReadout, 255], [634, colors.pink, lerExReadout, 975]].forEach(([y0, c, v, x0]) => {
  const g = legendBox(x0, y0, 88, 31);
  legendDot(g, x0 + 8, y0 + 15.5, c);
  legendText(g, x0 + 83, y0 + 15.5, v);
});

// ----------------------------
// Axes and frames
// ----------------------------
function styleAxis(g, w) {
  g.select(".domain").remove();
  g.attr("font-family", "DejaVu Sans Mono").attr("font-size", 14);
  g.selectAll(".tick line").attr("stroke", "#000").attr("stroke-width", w);
  g.selectAll(".tick text").attr("fill", "#000");
}

// 20-minute minor ticks inside the time range
const minorHours = [];
for (let k = -2; k <= 23; k++) { if (k % 3 !== 0) minorHours.push(k / 3); }

panels.forEach((p, i) => {
  // left axis
  svg.append("g")
    .attr("transform", `translate(${plotLeft},0)`)
    .call(d3.axisLeft(p.y).tickValues(minorValues(p)).tickSize(-8).tickFormat(""))
    .call(g => styleAxis(g, 2));
  svg.append("g")
    .attr("transform", `translate(${plotLeft},0)`)
    .call(d3.axisLeft(p.y).tickValues(p.major).tickSize(-22).tickPadding(5).tickFormat(p.fmt))
    .call(g => styleAxis(g, 2));

  // time ticks along the bottom of each panel
  svg.append("g")
    .attr("transform", `translate(0,${p.bottom})`)
    .call(d3.axisBottom(x).tickValues(minorHours).tickSize(-4).tickFormat(""))
    .call(g => styleAxis(g, 1.5));
  svg.append("g")
    .attr("transform", `translate(0,${p.bottom})`)
    .call(d3.axisBottom(x).tickValues(hourTicks.filter(h => h < 8)).tickSize(-11).tickFormat(""))
    .call(g => styleAxis(g, 2));
});

// right axis for specific luminosity
svg.append("g")
  .attr("transform", `translate(${plotRight},0)`)
  .call(d3.axisRight(ySp).tickValues(d3.range(5, 101, 5)).tickSize(-8).tickFormat(""))
  .call(g => styleAxis(g, 2));
svg.append("g")
  .attr("transform", `translate(${plotRight},0)`)
  .call(d3.axisRight(ySp).tickValues(lspTicks).tickSize(-20).tickPadding(5))
  .call(g => styleAxis(g, 2));

// frames
const frames = svg.append("g").attr("stroke", "#000");
panels.forEach(p => {
  frames.append("line").attr("x1", plotLeft - 1).attr("x2", plotRight)
    .attr("y1", p.top).attr("y2", p.top).attr("stroke-width", 2.2);
});
frames.append("line").attr("x1", plotLeft - 1).attr("x2", plotRight)
  .attr("y1", panels[6].bottom).attr("y2", panels[6].bottom).attr("stroke-width", 2.2);
frames.append("line").attr("x1", plotLeft).attr("x2", plotLeft)
  .attr("y1", plotTop).attr("y2", panels[6].bottom).attr("stroke-width", 2.2);
frames.append("line").attr("x1", plotRight).attr("x2", plotRight)
  .attr("y1", plotTop).attr("y2", panels[6].bottom)
  .attr("stroke-width", 1.2).attr("stroke-dasharray", "2,2");

// ----------------------------
// Time labels
// ----------------------------
const labels = svg.append("g").attr("fill", "#000");
hourLabels.forEach((lab, k) => {
  const t = labels.append("text")
    .attr("x", x(k + 1)).attr("y", 752)
    .attr("text-anchor", "middle");
  t.append("tspan").attr("font-size", 23).text(lab);
  t.append("tspan").attr("font-size", 16).attr("dy", -10).text("h");
});
{
  const t = labels.append("text").attr("x", x(0) - 21).attr("y", 752).attr("text-anchor", "start");
  [["0", 23, 0], ["h", 16, -10], ["0", 23, 10], ["m", 16, -10], ["0", 23, 10], ["s", 16, -10]].forEach(([s, fs, dy]) => {
    t.append("tspan").attr("font-size", fs).attr("dy", dy).text(s);
  });
  labels.append("text")
    .attr("x", x(0)).attr("y", 776)
    .attr("text-anchor", "middle")
    .attr("font-size", 23)
    .text(dateLabel);
}

// ----------------------------
// Axis titles
// ----------------------------
function axisTitle(cx, cy, angle, parts, weight) {
  const t = svg.append("text")
    .attr("transform", `translate(${cx},${cy}) rotate(${angle})`)
    .attr("text-anchor", "middle")
    .attr("font-weight", weight)
    .attr("fill", "#000");
  parts.forEach(([s, fs, dy, dx]) => {
    const sp = t.append("tspan").attr("font-size", fs).attr("dy", dy).text(s);
    if (dx) sp.attr("dx", dx);
  });
}

axisTitle(26, 71, -90, [["I", 15, 0], [" (mA)", 11, 0]], "normal");
axisTitle(44, 171, -90, [["Lum(10", 15, 0], ["33", 11, -7], [")", 15, 7]], "bold");
axisTitle(1130, 170, 90, [["L", 16, 0], ["sp", 11, 4], ["(10", 16, -4], ["30", 11, -7], [")", 16, 7]], "bold");
axisTitle(28, 272, -90, [["Σ", 17, 0], ["y", 11, 4], ["*", 12, -13, -6], [" (μm)", 15, 9]], "bold");
axisTitle(28, 372, -90, [["HER ε", 13, 0], ["y*", 10, 3], [" (pm)", 13, -3]], "normal");
axisTitle(28, 471, -90, [["LER ε", 14, 0], ["y*", 10, 3], [" (pm)", 14, -3]], "bold");
axisTitle(28, 571, -90, [["HER ε", 14, 0], ["x*", 10, 3], [" (nm)", 14, -3]], "bold");
axisTitle(28, 671, -90, [["LER ε", 14, 0], ["x*", 10, 3], [" (nm)", 14, -3]], "bold");

document.getElementById("chart").appendChild(svg.node());
</script>
</body>
</html>
